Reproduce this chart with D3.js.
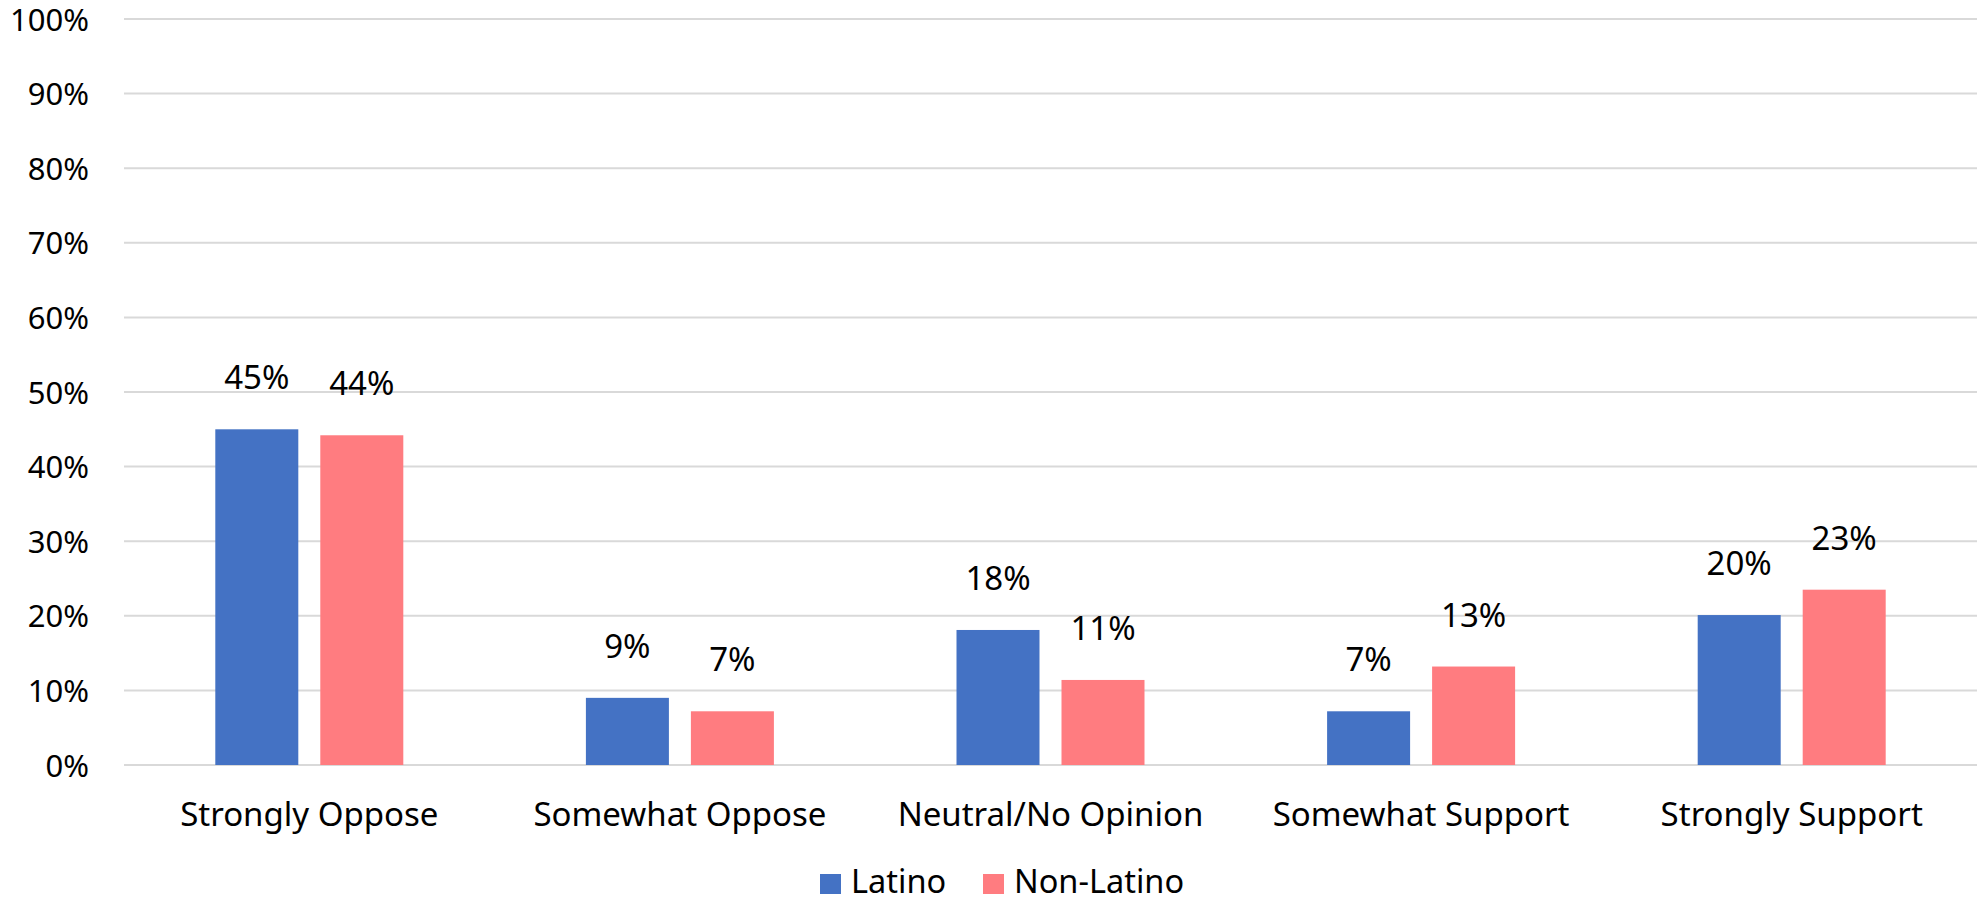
<!DOCTYPE html>
<html>
<head>
<meta charset="utf-8">
<script src="https://cdn.jsdelivr.net/npm/d3@7"></script>
<style>
  html, body { margin: 0; padding: 0; background: #ffffff; }
  svg { display: block; }
  text { font-family: "Noto Sans", "Open Sans", sans-serif; fill: #000; }
</style>
</head>
<body>
<svg id="chart" width="1977" height="903"></svg>
<script>
const categories = ["Strongly Oppose", "Somewhat Oppose", "Neutral/No Opinion", "Somewhat Support", "Strongly Support"];
const seriesNames = ["Latino", "Non-Latino"];
const latinoValues = [45, 9, 18, 7, 20];
const nonLatinoValues = [44, 7, 11, 13, 23];
// Bar heights (labels show rounded values)
const latinoHeights = [45.0, 9.0, 18.1, 7.2, 20.1];
const nonLatinoHeights = [44.2, 7.2, 11.4, 13.2, 23.5];
const yTicks = [0, 10, 20, 30, 40, 50, 60, 70, 80, 90, 100];
const colors = ["#4472C4", "#FF7C80"];

const svg = d3.select("#chart");
const W = 1977, H = 903;
const margin = { left: 124, right: 0, top: 19, bottom: 138 };

const x0 = d3.scaleBand().domain(categories).range([margin.left, W - margin.right]).padding(0);
const groupW = 188;
const x1 = d3.scaleBand().domain(seriesNames)
  .range([(x0.bandwidth() - groupW) / 2, (x0.bandwidth() + groupW) / 2])
  .paddingInner(0.2095).paddingOuter(0);
const y = d3.scaleLinear().domain([0, 100]).range([H - margin.bottom, margin.top]);

// gridlines
svg.append("g").selectAll("line").data(yTicks).join("line")
  .attr("x1", margin.left).attr("x2", W - margin.right)
  .attr("y1", d => y(d)).attr("y2", d => y(d))
  .attr("stroke", "#d9d9d9").attr("stroke-width", 2);

// y axis labels
const yAxis = d3.axisLeft(y).tickValues(yTicks).tickFormat(d => d + "%").tickSize(0).tickPadding(0);
const yg = svg.append("g").attr("transform", `translate(${89},0)`).call(yAxis);
yg.select(".domain").remove();
yg.selectAll("text").attr("font-size", 31).attr("font-family", "Noto Sans").attr("fill", "#000").attr("dy", "0.36em");

// x axis labels
const xAxis = d3.axisBottom(x0).tickSize(0).tickPadding(0);
const xg = svg.append("g").attr("transform", `translate(0,${y(0)})`).call(xAxis);
xg.select(".domain").remove();
xg.selectAll("text").attr("font-size", 33).attr("font-family", "Noto Sans").attr("fill", "#000").attr("dy", null).attr("y", 61);

const data = categories.map((c, i) => ({
  cat: c,
  vals: [
    { s: seriesNames[0], h: latinoHeights[i], v: latinoValues[i], c: colors[0] },
    { s: seriesNames[1], h: nonLatinoHeights[i], v: nonLatinoValues[i], c: colors[1] }
  ]
}));

const groups = svg.append("g").selectAll("g").data(data).join("g")
  .attr("transform", d => `translate(${x0(d.cat)},0)`);

groups.selectAll("rect").data(d => d.vals).join("rect")
  .attr("x", d => x1(d.s)).attr("width", x1.bandwidth())
  .attr("y", d => y(d.h)).attr("height", d => y(0) - y(d.h))
  .attr("fill", d => d.c);

groups.selectAll("text.lbl").data(d => d.vals).join("text")
  .attr("class", "lbl")
  .attr("x", d => x1(d.s) + x1.bandwidth() / 2)
  .attr("y", d => y(d.h) - 40)
  .attr("text-anchor", "middle")
  .attr("font-size", 33)
  .text(d => d.v + "%");

// legend
const legend = svg.append("g").attr("transform", "translate(820,874)");
const legX = [0, 163];
seriesNames.forEach((s, i) => {
  const g = legend.append("g").attr("transform", `translate(${legX[i]},0)`);
  g.append("rect").attr("width", 21).attr("height", 20).attr("fill", colors[i]);
  g.append("text").attr("x", 31).attr("y", 19).attr("font-size", 32.5).text(s);
});
</script>
</body>
</html>
